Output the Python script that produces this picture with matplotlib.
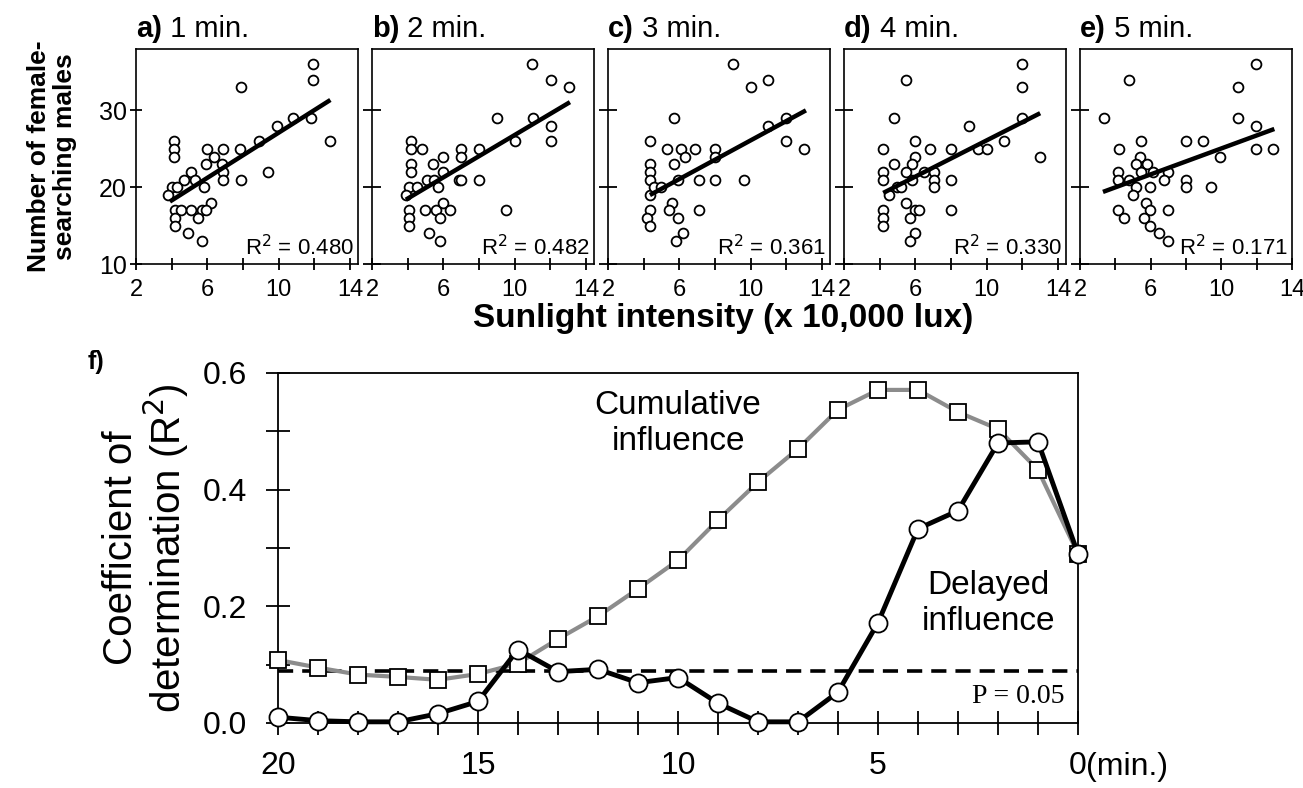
import matplotlib.pyplot as plt
import numpy as np

plt.rcParams['font.family'] = ['Liberation Sans', 'DejaVu Sans']

# scatter panels: sunlight (x 10,000 lux) vs number of female-searching males
panel_names = ['a)', 'b)', 'c)', 'd)', 'e)']
panel_lags = ['1 min.', '2 min.', '3 min.', '4 min.', '5 min.']
panel_r2 = ['0.480', '0.482', '0.361', '0.330', '0.171']

ax_ = [11.9, 11.9, 7.9, 11.8, 10.8, 9.9, 8.9, 12.9, 7.85, 6.9, 6.0, 4.15, 4.15, 4.15, 6.4, 5.9, 6.8,
       5.1, 6.9, 6.9, 7.9, 9.4, 4.7, 5.3, 4.0, 4.3, 3.8, 5.8, 6.2, 4.2, 4.5, 5.1, 5.7, 5.9, 5.5, 4.2,
       4.2, 4.9, 5.7]
ay_ = [36, 34, 33, 29, 29, 28, 26, 26, 25, 25, 25, 26, 25, 24, 24, 23, 23, 22, 22, 21, 21, 22, 21,
       21, 20, 20, 19, 20, 18, 17, 17, 17, 17, 17, 16, 16, 15, 14, 13]
bx_ = [11.0, 12.06, 13.07, 9.0, 11.05, 12.06, 12.06, 10.04, 4.2, 4.2, 4.8, 7.0, 7.0, 8.0, 6.0, 4.2,
       4.2, 5.4, 6.0, 5.1, 5.5, 6.9, 7.0, 8.0, 4.1, 4.5, 5.7, 3.9, 4.1, 4.1, 4.1, 5.0, 5.6, 5.8, 6.0,
       6.4, 9.5, 5.2, 5.8]
by_ = [36, 34, 33, 29, 29, 28, 26, 26, 26, 25, 25, 25, 24, 25, 24, 23, 22, 23, 22, 21, 21, 21, 21,
       21, 20, 20, 20, 19, 17, 16, 15, 17, 17, 16, 18, 17, 17, 14, 13]
cx_ = [4.35, 4.35, 4.35, 4.35, 4.35, 4.35, 4.2, 4.35, 4.6, 5.0, 5.3, 5.7, 5.7, 6.1, 6.3, 6.9, 5.6,
       5.4, 5.9, 6.2, 5.8, 5.9, 7.1, 9.0, 10.0, 11.0, 11.0, 12.0, 12.0, 13.0, 8.0, 8.0, 8.0, 9.6, 7.1]
cy_ = [26, 23, 22, 21, 19, 17, 16, 15, 20, 20, 25, 29, 23, 25, 24, 25, 18, 17, 16, 14, 13, 21, 21,
       36, 33, 34, 28, 29, 26, 25, 25, 24, 21, 21, 17]
dx_ = [5.5, 4.8, 9.0, 4.2, 6.0, 6.8, 8.0, 9.5, 10.0, 11.0, 6.0, 5.8, 4.8, 4.2, 4.2, 5.5, 6.5, 7.05,
       7.05, 7.05, 5.8, 8.0, 5.0, 5.2, 4.5, 5.5, 6.0, 6.2, 8.0, 4.2, 4.2, 4.2, 5.7, 6.0, 5.7, 12.0,
       12.0, 12.0, 13.0]
dy_ = [34, 29, 28, 25, 26, 25, 25, 25, 25, 26, 24, 23, 23, 22, 21, 22, 22, 22, 21, 20, 21, 21, 20,
       20, 19, 18, 17, 17, 17, 17, 16, 15, 16, 14, 13, 36, 33, 29, 24]
ex_ = [11.94, 4.79, 10.95, 3.37, 10.95, 11.94, 11.94, 12.92, 9.95, 7.99, 8.97, 5.48, 4.22, 5.39,
       5.16, 5.77, 4.17, 4.17, 5.48, 6.14, 4.79, 6.99, 6.75, 7.99, 7.99, 9.44, 5.16, 5.95, 4.98,
       5.73, 5.95, 6.99, 4.17, 4.49, 5.62, 5.95, 6.48, 6.99]
ey_ = [36, 34, 33, 29, 29, 28, 25, 25, 24, 26, 26, 26, 25, 24, 23, 23, 22, 21, 22, 22, 21, 22, 21,
       21, 20, 20, 20, 20, 19, 18, 17, 17, 17, 16, 16, 15, 14, 13]

# regression lines: intercept, slope, x start, x end
fit_icpt = [12.4, 13.0, 13.5, 14.3, 16.6]
fit_slope = [1.47, 1.38, 1.26, 1.18, 0.845]
fit_x0 = [3.9, 3.9, 4.35, 4.2, 3.3]
fit_x1 = [12.9, 13.1, 13.1, 13.0, 13.0]

# panel f: R2 against time lag (min.)
lag = [20, 19, 18, 17, 16, 15, 14, 13, 12, 11, 10, 9, 8, 7, 6, 5, 4, 3, 2, 1, 0]
cumulative = [0.108, 0.095, 0.083, 0.079, 0.074, 0.084, 0.102, 0.144, 0.183, 0.230, 0.279,
              0.348, 0.413, 0.470, 0.537, 0.571, 0.571, 0.533, 0.504, 0.434, 0.290]
delayed = [0.010, 0.004, 0.002, 0.002, 0.016, 0.037, 0.126, 0.088, 0.092, 0.069, 0.078,
           0.034, 0.002, 0.002, 0.053, 0.172, 0.333, 0.364, 0.480, 0.482, 0.290]
p05_r2 = 0.09

W, H = 1303, 788
fig = plt.figure(figsize=(W / 100, H / 100), dpi=100)


def px_axes(left, top, right, bottom):
    return fig.add_axes([left / W, 1 - bottom / H, (right - left) / W, (bottom - top) / H])


xs = [ax_, bx_, cx_, dx_, ex_]
ys = [ay_, by_, cy_, dy_, ey_]
lefts = [136, 372, 608, 844, 1080]
for i in range(5):
    right = lefts[i] + (212 if i == 4 else 222)
    ax = px_axes(lefts[i], 49, right, 264)
    ax.scatter(xs[i], ys[i], s=50, facecolors='white', edgecolors='black', linewidths=1.3, zorder=3)
    lx = np.array([fit_x0[i], fit_x1[i]])
    ax.plot(lx, fit_icpt[i] + fit_slope[i] * lx, color='black', lw=3.2, zorder=4,
            solid_capstyle='butt')
    ax.set_xlim(2, 14 if i == 4 else 14 + 8 / 17.8)
    ax.set_ylim(10, 38)
    ax.set_xticks([2, 6, 10, 14])
    ax.set_xticks([4, 8, 12], minor=True)
    ax.set_yticks([10, 20, 30])
    ax.tick_params(which='both', direction='inout', length=9, width=1.3, labelsize=17)
    ax.tick_params(axis='x', which='both', pad=6)
    ax.tick_params(axis='y', which='both', labelsize=18, pad=2)
    if i > 0:
        ax.set_yticklabels([])
        ax.tick_params(axis='y', length=13)
    for sp in ax.spines.values():
        sp.set_linewidth(1.2)
    ax.text(0.98, 0.02, 'R$^2$ = ' + panel_r2[i], transform=ax.transAxes, ha='right', va='bottom',
            fontsize=16)
    t1 = ax.text(0.0, 1.055, panel_names[i], transform=ax.transAxes, ha='left', va='baseline',
                 fontsize=21, fontweight='bold')
    ax.annotate(' ' + panel_lags[i], xy=(1, 0), xycoords=t1, ha='left', va='bottom', fontsize=21)
    if i == 0:
        ax.set_ylabel('Number of female-\nsearching males', fontsize=19, fontweight='bold',
                      labelpad=16, linespacing=1.1)

fig.text(723 / W, 1 - 318 / H, 'Sunlight intensity (x 10,000 lux)', ha='center', va='center',
         fontsize=24, fontweight='bold')

# panel f
axf = px_axes(278, 373, 1078, 723)
axf.axhline(p05_r2, color='black', lw=2.6, dashes=(4.2, 2.5), zorder=1)
axf.plot(lag, cumulative, color='#8c8c8c', lw=3, marker='s', markersize=12,
         markerfacecolor='white', markeredgecolor='black', markeredgewidth=1.3, zorder=3,
         clip_on=False)
axf.plot(lag, delayed, color='black', lw=3.5, marker='o', markersize=13,
         markerfacecolor='white', markeredgecolor='black', markeredgewidth=1.3, zorder=4,
         clip_on=False)
axf.set_xlim(20, 0)
axf.set_ylim(0, 0.6)
axf.set_xticks([20, 15, 10, 5, 0])
axf.set_xticklabels(['20', '15', '10', '5', '0'])
axf.set_xticks(np.arange(0, 21, 1), minor=True)
axf.set_yticks([0.0, 0.2, 0.4, 0.6])
axf.set_yticklabels(['0.0', '0.2', '0.4', '0.6'])
axf.set_yticks([0.1, 0.3, 0.5], minor=True)
axf.tick_params(which='both', direction='inout', length=17, width=1.3, labelsize=23)
axf.tick_params(axis='x', which='both', pad=12)
axf.tick_params(axis='y', which='both', pad=14)
for sp in axf.spines.values():
    sp.set_linewidth(1.3)
axf.annotate('(min.)', xy=(0, 0), xycoords='data', xytext=(6, -32), textcoords='offset points',
             ha='left', va='center', fontsize=23)
axf.set_ylabel('Coefficient of\ndetermination (R$^2$)', fontsize=29, labelpad=8, linespacing=1.05)
axf.text(10.0, 0.513, 'Cumulative\ninfluence', ha='center', va='center', fontsize=24,
         linespacing=1.2)
axf.text(2.25, 0.205, 'Delayed\ninfluence', ha='center', va='center', fontsize=24,
         linespacing=1.2)
axf.text(0.35, 0.045, 'P = 0.05', ha='right', va='center', fontsize=20,
         family=['Liberation Serif', 'DejaVu Serif'])
fig.text(96 / W, 1 - 362 / H, 'f)', ha='center', va='center', fontsize=18, fontweight='bold')

fig.savefig('out.png', dpi=100)
